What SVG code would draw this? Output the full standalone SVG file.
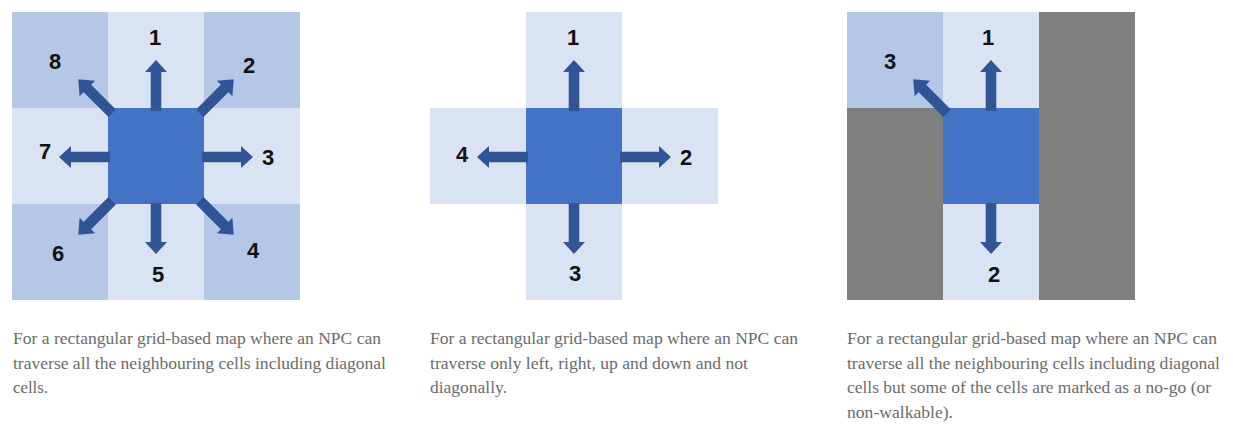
<svg xmlns="http://www.w3.org/2000/svg" xmlns:xlink="http://www.w3.org/1999/xlink" width="1233" height="431" viewBox="0 0 1233 431">
  <style>
    .corner { fill: #B4C7E7; }
    .edge { fill: #DAE3F3; }
    .npc { fill: #4472C4; }
    .block { fill: #7F7F7F; }
    .arrow { fill: #2F5597; }
    .num { font-family: "Liberation Sans", Arial, sans-serif; font-weight: bold; font-size: 22px; fill: #111111; text-anchor: middle; }
    .cap { font-family: "Liberation Serif", "Times New Roman", serif; font-size: 16.5px; fill: #6B6B6B; }
  </style>
  <defs>
    <path id="ao" d="M46,-5.3 H85 V-11 L97,0 L85,11 V5.3 H46 Z"/>
    <path id="ad" d="M62,-5.3 H97 V-11 L110,0 L97,11 V5.3 H62 Z"/>
  </defs>
  <rect width="1233" height="431" fill="#FFFFFF"/>

  <!-- Panel 1: eight neighbours -->
  <g id="grid1">
    <rect class="corner" x="12" y="12" width="96" height="96"/>
    <rect class="edge" x="108" y="12" width="96" height="96"/>
    <rect class="corner" x="204" y="12" width="96" height="96"/>
    <rect class="edge" x="12" y="108" width="96" height="96"/>
    <rect class="edge" x="204" y="108" width="96" height="96"/>
    <rect class="corner" x="12" y="204" width="96" height="96"/>
    <rect class="edge" x="108" y="204" width="96" height="96"/>
    <rect class="corner" x="204" y="204" width="96" height="96"/>
  </g>
  <g id="npc1"><rect class="npc" x="108" y="108" width="96" height="96"/></g>

  <!-- Panel 2: four neighbours -->
  <g id="grid2">
    <rect class="edge" x="526" y="12" width="96" height="96"/>
    <rect class="edge" x="430" y="108" width="96" height="96"/>
    <rect class="edge" x="622" y="108" width="96" height="96"/>
    <rect class="edge" x="526" y="204" width="96" height="96"/>
  </g>
  <g id="npc2"><rect class="npc" x="526" y="108" width="96" height="96"/></g>

  <!-- Panel 3: with non-walkable cells -->
  <g id="grid3">
    <rect class="corner" x="847" y="12" width="96" height="96"/>
    <rect class="block" x="847" y="108" width="96" height="192"/>
    <rect class="edge" x="943" y="12" width="96" height="96"/>
    <rect class="edge" x="943" y="204" width="96" height="96"/>
    <rect class="block" x="1039" y="12" width="96" height="288"/>
  </g>
  <g id="npc3"><rect class="npc" x="943" y="108" width="96" height="96"/></g>

  <g id="connectors" class="arrow">
    <g transform="translate(156,157)">
      <use xlink:href="#ao" href="#ao" transform="rotate(-90)"/>
      <use xlink:href="#ao" href="#ao"/>
      <use xlink:href="#ao" href="#ao" transform="rotate(90)"/>
      <use xlink:href="#ao" href="#ao" transform="rotate(180)"/>
      <use xlink:href="#ad" href="#ad" transform="rotate(-45)"/>
      <use xlink:href="#ad" href="#ad" transform="rotate(45)"/>
      <use xlink:href="#ad" href="#ad" transform="rotate(135)"/>
      <use xlink:href="#ad" href="#ad" transform="rotate(-135)"/>
    </g>
    <g transform="translate(574,157)">
      <use xlink:href="#ao" href="#ao" transform="rotate(-90)"/>
      <use xlink:href="#ao" href="#ao"/>
      <use xlink:href="#ao" href="#ao" transform="rotate(90)"/>
      <use xlink:href="#ao" href="#ao" transform="rotate(180)"/>
    </g>
    <g transform="translate(991,157)">
      <use xlink:href="#ao" href="#ao" transform="rotate(-90)"/>
      <use xlink:href="#ao" href="#ao" transform="rotate(90)"/>
      <use xlink:href="#ad" href="#ad" transform="rotate(-135)"/>
    </g>
  </g>

  <g id="labels1">
    <text class="num" x="155" y="45">1</text>
    <text class="num" x="249" y="73">2</text>
    <text class="num" x="268" y="165">3</text>
    <text class="num" x="253" y="258">4</text>
    <text class="num" x="158" y="282">5</text>
    <text class="num" x="58" y="261">6</text>
    <text class="num" x="45" y="159">7</text>
    <text class="num" x="55" y="69">8</text>
  </g>
  <g id="labels2">
    <text class="num" x="573" y="45">1</text>
    <text class="num" x="686" y="165">2</text>
    <text class="num" x="575" y="281">3</text>
    <text class="num" x="462" y="162">4</text>
  </g>
  <g id="labels3">
    <text class="num" x="988" y="45">1</text>
    <text class="num" x="994" y="282">2</text>
    <text class="num" x="890" y="69">3</text>
  </g>

  <g id="caption1" class="cap">
    <text x="13" y="344" textLength="368" lengthAdjust="spacingAndGlyphs">For a rectangular grid-based map where an NPC can</text>
    <text x="13" y="368.5" textLength="373" lengthAdjust="spacingAndGlyphs">traverse all the neighbouring cells including diagonal</text>
    <text x="13" y="393" textLength="35" lengthAdjust="spacingAndGlyphs">cells.</text>
  </g>
  <g id="caption2" class="cap">
    <text x="430" y="344" textLength="368" lengthAdjust="spacingAndGlyphs">For a rectangular grid-based map where an NPC can</text>
    <text x="430" y="368.5" textLength="318" lengthAdjust="spacingAndGlyphs">traverse only left, right, up and down and not</text>
    <text x="430" y="393" textLength="77" lengthAdjust="spacingAndGlyphs">diagonally.</text>
  </g>
  <g id="caption3" class="cap">
    <text x="847" y="344" textLength="370" lengthAdjust="spacingAndGlyphs">For a rectangular grid-based map where an NPC can</text>
    <text x="847" y="368.5" textLength="373" lengthAdjust="spacingAndGlyphs">traverse all the neighbouring cells including diagonal</text>
    <text x="847" y="393" textLength="364" lengthAdjust="spacingAndGlyphs">cells but some of the cells are marked as a no-go (or</text>
    <text x="847" y="417.5" textLength="106" lengthAdjust="spacingAndGlyphs">non-walkable).</text>
  </g>
</svg>
